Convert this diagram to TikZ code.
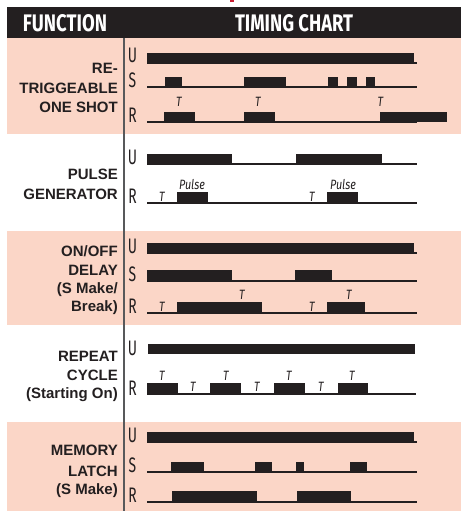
\documentclass[tikz,border=0pt]{standalone}
\usepackage{fontspec}
\setmainfont{Liberation Sans}
\newfontfamily\fira{Fira Sans}
\usepackage{graphicx}
\definecolor{ink}{RGB}{35,31,32}
\definecolor{pinkbg}{RGB}{251,214,199}
\definecolor{rulegray}{RGB}{88,89,91}
\definecolor{redmark}{RGB}{200,30,50}
\newcommand\narrow[1]{\scalebox{0.66}[1]{#1}}
\newcommand\tnarrow[1]{\scalebox{0.8}[1]{#1}}
\tikzset{
  band/.style={fill=pinkbg, draw=none},
  hdr/.style={text=white, inner sep=0pt, anchor=base, font=\fira\bfseries},
  func/.style={anchor=base east, inner sep=0pt, text=ink, font=\bfseries\fontsize{15}{15}\selectfont},
  sig/.style={inner sep=0pt, anchor=base, text=ink, font=\fira\fontsize{21}{21}\selectfont},
  tlab/.style={inner sep=0pt, anchor=base, text=ink, font=\fira\itshape\fontsize{13.5}{13.5}\selectfont},
  wire/.style={draw=ink, line width=1.3pt},
  pulsebar/.style={fill=ink},
}
\begin{document}
\begin{tikzpicture}[x=1pt,y=-1pt]
\useasboundingbox (0,0) rectangle (461,511);
% red mark at top
\fill[redmark] (229.5,0) rectangle (233.5,2.5);
% header
\fill[ink] (7,7) rectangle (461,38);
\node[hdr] (hfunc) at (65,32) {\resizebox{84pt}{17pt}{FUNCTION}};
\node[hdr] (htime) at (294,32) {\resizebox{118pt}{17pt}{TIMING CHART}};
% bands
\fill[band] (7,38) rectangle (461,134);
\fill[band] (7,231) rectangle (461,325);
\fill[band] (7,422) rectangle (461,511);
% separator
\draw[rulegray, line width=1.8pt] (124,38) -- (124,511);

% ---------- Row 1: retriggerable one shot
\node[func] (f1a) at (118,74) {RE-};
\node[func] (f1b) at (118,93) {TRIGGEABLE};
\node[func] (f1c) at (118,112) {ONE SHOT};
\node[sig] (u1) at (132.5,63) {\narrow{U}};
\node[sig] (s1) at (132.5,87) {\narrow{S}};
\node[sig] (r1) at (132.5,122) {\narrow{R}};
\fill[pulsebar] (147,53) rectangle (414,63);
\draw[wire] (147,63) -- (417,63);
\draw[wire] (147,87) -- (417,87);
\foreach \a/\b in {165/182,244/286,328/338,347/357,366/375}
  \fill[pulsebar] (\a,77) rectangle (\b,87);
\draw[wire] (147,122) -- (417,122);
\foreach \a/\b in {164/195,244/275,380/447}
  \fill[pulsebar] (\a,112) rectangle (\b,122);
\node[tlab] (t1a) at (179,106) {\tnarrow{T}};
\node[tlab] (t1b) at (258,106) {\tnarrow{T}};
\node[tlab] (t1c) at (380.5,106) {\tnarrow{T}};

% ---------- Row 2: pulse generator
\node[func] (f2a) at (118,179) {PULSE};
\node[func] (f2b) at (118,199) {GENERATOR};
\node[sig] (u2) at (132.5,164) {\narrow{U}};
\node[sig] (r2) at (132.5,203) {\narrow{R}};
\draw[wire] (147,164) -- (417,164);
\foreach \a/\b in {147/232,296/382}
  \fill[pulsebar] (\a,154) rectangle (\b,164);
\draw[wire] (147,203) -- (417,203);
\foreach \a/\b in {177/208,327/358}
  \fill[pulsebar] (\a,192) rectangle (\b,203);
\node[tlab] (t2a) at (162,201) {\tnarrow{T}};
\node[tlab] (t2b) at (312,201) {\tnarrow{T}};
\node[tlab] (p2a) at (192,189) {\tnarrow{Pulse}};
\node[tlab] (p2b) at (343,189) {\tnarrow{Pulse}};

% ---------- Row 3: on/off delay
\node[func] (f3a) at (118,256) {ON/OFF};
\node[func] (f3b) at (118,275) {DELAY};
\node[func] (f3c) at (118,293) {(S Make/};
\node[func] (f3d) at (118,311) {Break)};
\node[sig] (u3) at (132.5,253) {\narrow{U}};
\node[sig] (s3) at (132.5,281) {\narrow{S}};
\node[sig] (r3) at (132.5,313) {\narrow{R}};
\fill[pulsebar] (147,243) rectangle (414,253);
\draw[wire] (147,253) -- (417,253);
\draw[wire] (147,281) -- (417,281);
\foreach \a/\b in {147/232,295/332}
  \fill[pulsebar] (\a,270) rectangle (\b,281);
\draw[wire] (147,313) -- (417,313);
\foreach \a/\b in {177/262,327/365}
  \fill[pulsebar] (\a,302) rectangle (\b,313);
\node[tlab] (t3a) at (162,311) {\tnarrow{T}};
\node[tlab] (t3b) at (242,299) {\tnarrow{T}};
\node[tlab] (t3c) at (312,311) {\tnarrow{T}};
\node[tlab] (t3d) at (349,299) {\tnarrow{T}};

% ---------- Row 4: repeat cycle
\node[func] (f4a) at (118,361) {REPEAT};
\node[func] (f4b) at (118,380) {CYCLE};
\node[func] (f4c) at (118,398) {(Starting On)};
\node[sig] (u4) at (132.5,355) {\narrow{U}};
\node[sig] (r4) at (132.5,395) {\narrow{R}};
\fill[pulsebar] (148,344) rectangle (415,354);
\draw[wire] (147,394) -- (416,394);
\foreach \a/\b in {147/178,210/241,274/305,338/368}
  \fill[pulsebar] (\a,383) rectangle (\b,394);
\foreach \x [count=\i] in {162,226,289,352}
  \node[tlab] (t4h\i) at (\x,380) {\tnarrow{T}};
\foreach \x [count=\i] in {193,257,321}
  \node[tlab] (t4l\i) at (\x,391) {\tnarrow{T}};

% ---------- Row 5: memory latch
\node[func] (f5a) at (118,455) {MEMORY};
\node[func] (f5b) at (118,476) {LATCH};
\node[func] (f5c) at (118,494) {(S Make)};
\node[sig] (u5) at (132.5,442) {\narrow{U}};
\node[sig] (s5) at (132.5,472) {\narrow{S}};
\node[sig] (r5) at (132.5,502) {\narrow{R}};
\fill[pulsebar] (147,432) rectangle (414,442);
\draw[wire] (147,442) -- (417,442);
\draw[wire] (147,472) -- (417,472);
\foreach \a/\b in {171/204,255/272,296/304,350/367}
  \fill[pulsebar] (\a,462) rectangle (\b,472);
\draw[wire] (147,502) -- (417,502);
\foreach \a/\b in {172/257,297/351}
  \fill[pulsebar] (\a,491) rectangle (\b,502);
\end{tikzpicture}
\end{document}
